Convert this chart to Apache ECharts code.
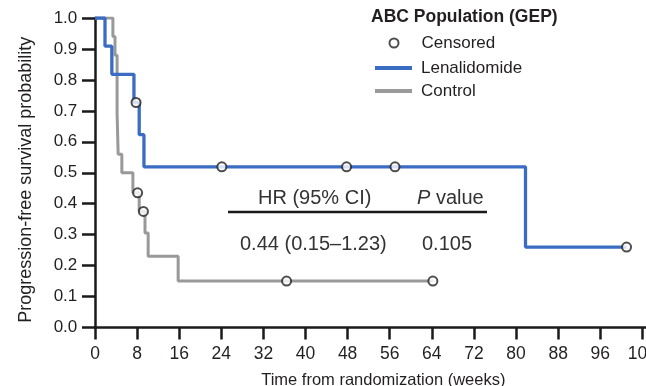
<!DOCTYPE html>
<html>
<head>
<meta charset="utf-8">
<script src="https://cdn.jsdelivr.net/npm/echarts@6/dist/echarts.min.js"></script>
<style>
html,body{margin:0;padding:0;background:#fff;}
#chart1{width:646px;height:386px;}
</style>
</head>
<body>
<div id="chart1"></div>
<script>
// Kaplan-Meier curves (weeks, survival probability)
var lenaWeeks  = [0, 1.9, 3.2, 7.4, 8.4, 9.3, 81.8, 101.0];
var lenaProb   = [1, 0.909, 0.818, 0.727, 0.623, 0.519, 0.26, 0.26];
var ctrlWeeks  = [0, 3.4, 3.8, 4.2, 4.4, 5.1, 7.2, 8.4, 9.5, 10.1, 15.8, 64.2];
var ctrlProb   = [1, 0.94, 0.88, 0.69, 0.56, 0.5, 0.435, 0.375, 0.305, 0.23, 0.15, 0.15];
// censored marks
var lenaCensWeeks = [7.8, 24.1, 47.8, 57.0, 101.0];
var lenaCensProb  = [0.727, 0.519, 0.519, 0.519, 0.26];
var ctrlCensWeeks = [8.1, 9.2, 36.4, 64.2];
var ctrlCensProb  = [0.435, 0.375, 0.15, 0.15];

// axis ticks: weeks every 8 (0..104), probability every 0.1 (0..1)
var xTickStep = 8, xMax = 105;
var yTickStep = 0.1, yMax = 1;

function pairs(xs, ys) {
    var res = [];
    for (var i = 0; i < xs.length; i++) {
        res.push([xs[i], ys[i]]);
    }
    return res;
}

var FONT = "'Liberation Sans', Arial, sans-serif";
var TXT = '#231f20';

var Chart1 = echarts.init(document.getElementById('chart1'));
var option1 = {
    backgroundColor: '#fff',
    animation: false,
    textStyle: { fontFamily: FONT },
    title: {
        text: 'ABC Population (GEP)',
        left: 371,
        top: 8,
        padding: 0,
        textStyle: { fontSize: 17.5, fontWeight: 'bold', color: TXT, fontFamily: FONT }
    },
    legend: [
        {
            data: ['Censored'],
            left: 388.5,
            top: 34.5,
            padding: 0,
            itemWidth: 37,
            itemHeight: 9,
            icon: 'circle',
            textStyle: { fontSize: 17, color: TXT, fontFamily: FONT, padding: [0, 0, 0, 4] }
        },
        {
            data: ['Lenalidomide', 'Control'],
            left: 375,
            top: 59.5,
            padding: 0,
            orient: 'vertical',
            itemWidth: 37,
            itemHeight: 4,
            icon: 'rect',
            itemGap: 6,
            textStyle: { fontSize: 17, color: TXT, fontFamily: FONT, padding: [0, 0, 0, 4] }
        }
    ],
    grid: { left: 95, right: -1.6, top: 18, bottom: 58.5, outerBoundsMode: 'none', containLabel: false },
    xAxis: {
        type: 'value',
        min: 0,
        max: xMax,
        interval: xTickStep,
        name: 'Time from randomization (weeks)',
        nameLocation: 'middle',
        nameGap: 44,
        nameTextStyle: { fontSize: 16.5, color: TXT, fontFamily: FONT, padding: [0, 0, 0, 24] },
        axisLine: { lineStyle: { color: '#1a1a1a', width: 2.5 } },
        axisTick: { show: true, length: 12, lineStyle: { color: '#1a1a1a', width: 2.5 } },
        axisLabel: { fontSize: 17.5, color: TXT, margin: 18, showMaxLabel: false, fontFamily: FONT,
            formatter: function (v) { return v % xTickStep === 0 ? String(v) : ''; } },
        splitLine: { show: false }
    },
    yAxis: {
        type: 'value',
        min: 0,
        max: yMax,
        interval: yTickStep,
        offset: 1.7,
        name: 'Progression-free survival probability',
        nameLocation: 'middle',
        nameGap: 58,
        nameTextStyle: { fontSize: 18, color: TXT, fontFamily: FONT, padding: [0, 14, 0, 0] },
        axisLine: { show: true, lineStyle: { color: '#1a1a1a', width: 2.5 } },
        axisTick: { show: true, length: 13, lineStyle: { color: '#1a1a1a', width: 2.5 } },
        axisLabel: {
            fontSize: 17, color: TXT, margin: 16, fontFamily: FONT,
            formatter: function (v) { return v.toFixed(1); }
        },
        splitLine: { show: false }
    },
    series: [
        {
            name: 'Control',
            type: 'line',
            step: 'end',
            showSymbol: false,
            color: '#999999',
            lineStyle: { color: '#999999', width: 3 },
            data: pairs(ctrlWeeks, ctrlProb)
        },
        {
            name: 'Lenalidomide',
            type: 'line',
            step: 'end',
            showSymbol: false,
            color: '#3b6cc4',
            lineStyle: { color: '#3b6cc4', width: 3.3 },
            data: pairs(lenaWeeks, lenaProb)
        },
        {
            name: 'Censored',
            type: 'scatter',
            symbol: 'circle',
            symbolSize: 9,
            itemStyle: { color: '#fff', borderColor: '#222', borderWidth: 2 },
            z: 5,
            data: pairs(lenaCensWeeks, lenaCensProb).concat(pairs(ctrlCensWeeks, ctrlCensProb))
        }
    ],
    graphic: [
        {
            type: 'text', left: 258, top: 188,
            style: { text: 'HR (95% CI)', fontSize: 20, fill: '#333', fontFamily: FONT }
        },
        {
            type: 'text', left: 417, top: 188,
            style: {
                text: '{i|P} value', fontSize: 20, fill: '#333', fontFamily: FONT,
                rich: { i: { fontStyle: 'italic', fontSize: 20, fill: '#333', fontFamily: FONT } }
            }
        },
        {
            type: 'line',
            shape: { x1: 228, y1: 212, x2: 487, y2: 212 },
            style: { stroke: '#1a1a1a', lineWidth: 2.5 }
        },
        {
            type: 'text', left: 240, top: 234,
            style: { text: '0.44 (0.15\u20131.23)', fontSize: 20, fill: '#333', fontFamily: FONT }
        },
        {
            type: 'text', left: 422, top: 234,
            style: { text: '0.105', fontSize: 20, fill: '#333', fontFamily: FONT }
        }
    ]
};
Chart1.setOption(option1);

window.onresize = function () {
    Chart1.resize();
};
</script>
</body>
</html>
